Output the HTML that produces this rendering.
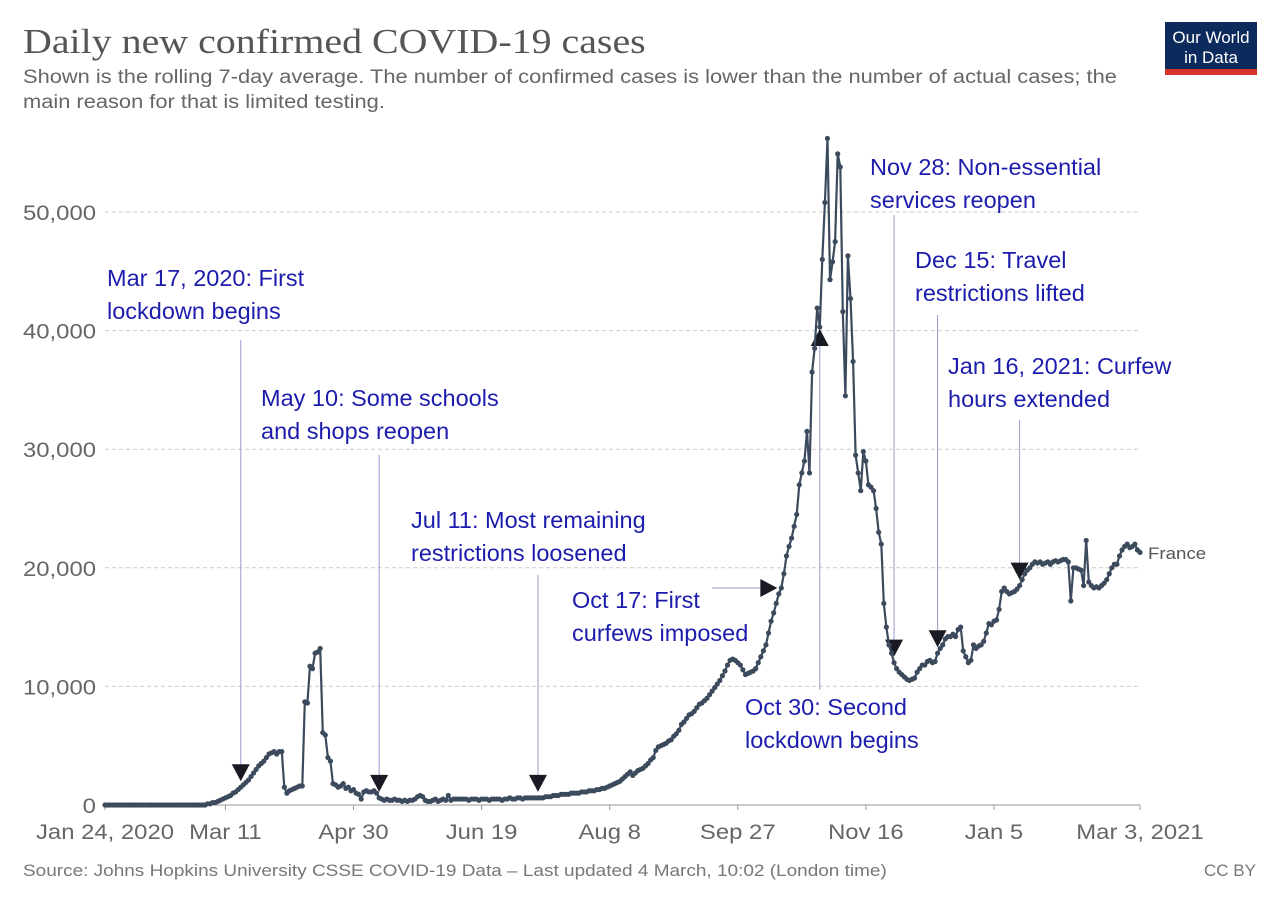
<!DOCTYPE html>
<html><head><meta charset="utf-8"><style>
body{margin:0;background:#fff;width:1280px;height:904px;overflow:hidden}
svg text{font-family:"Liberation Sans",sans-serif}
</style></head><body>
<svg id="chart" width="1280" height="904" xmlns="http://www.w3.org/2000/svg">
<text class="st" data-k="1.14" x="23" y="53" style="font-family:'Liberation Serif',serif" font-size="35" fill="#555">Daily new confirmed COVID-19 cases</text>
<text class="st" data-k="1.15" x="23" y="83" font-size="19" fill="#666">Shown is the rolling 7-day average. The number of confirmed cases is lower than the number of actual cases; the</text>
<text class="st" data-k="1.15" x="23" y="108" font-size="19" fill="#666">main reason for that is limited testing.</text>
<g>
<rect x="1165" y="22" width="92" height="53" fill="#0d2a5c"/>
<rect x="1165" y="69" width="92" height="6" fill="#d4342b"/>
<text x="1211" y="43" font-size="17" fill="#fff" text-anchor="middle">Our World</text>
<text x="1211" y="63" font-size="17" fill="#fff" text-anchor="middle">in Data</text>
</g>
<g id="grid"></g><g id="annots"></g><g id="series"></g>
<text class="st" data-k="1.1" x="1148" y="559" font-size="17" fill="#555">France</text>
<text class="st" data-k="1.15" x="23" y="876" font-size="16.5" fill="#777">Source: Johns Hopkins University CSSE COVID-19 Data – Last updated 4 March, 10:02 (London time)</text>
<text x="1256" y="876" font-size="17" fill="#777" text-anchor="end">CC BY</text>
</svg>
<script>
const casesThousands = [
0,0,0,0,0,0,0,0,0,0,0,0,0,0,0,0,0,0,0,0,0,0,0,0,0,0,0,0,0,0,0,0,0,0,0,0,0,0,0,0,
0.1,0.1,0.2,0.2,0.3,0.4,0.5,0.6,0.7,0.8,1.0,1.1,1.3,1.5,1.7,1.9,
2.1,2.4,2.7,3.0,3.3,3.5,3.7,4.0,4.3,4.4,4.5,4.3,4.5,4.5,1.5,1.0,
1.2,1.3,1.4,1.5,1.6,1.6,8.7,8.6,11.7,11.5,12.8,12.9,13.2,6.1,5.9,4.0,3.7,1.8,1.7,1.5,1.6,1.8,1.4,1.5,1.2,1.3,1.0,0.9,
0.5,1.1,1.2,1.1,1.1,1.2,1.0,0.6,0.5,0.4,0.5,0.4,0.4,0.5,0.4,0.4,0.3,0.4,0.3,0.4,0.4,0.5,0.7,0.8,0.7,0.4,0.3,0.3,0.4,0.5,0.3,0.4,0.5,0.4,0.8,0.4,0.5,0.5,0.5,0.5,
0.5,0.5,0.4,0.5,0.5,0.5,0.4,0.5,0.5,0.5,0.4,0.5,0.5,0.5,0.5,0.4,0.5,0.5,0.6,0.5,0.5,0.6,0.6,0.5,0.6,0.6,0.6,0.6,0.6,0.6,0.6,0.6,0.7,0.7,0.7,0.8,0.8,0.8,0.9,0.9,
0.9,0.9,1.0,1.0,1.0,1.0,1.1,1.1,1.1,1.2,1.2,1.2,1.3,1.3,1.4,1.4,1.5,1.6,1.7,1.8,1.9,2.0,2.2,2.4,2.6,2.8,2.5,2.7,2.9,3.0,3.1,3.3,3.5,3.8,4.0,4.6,4.9,5.0,5.1,5.2,
5.4,5.5,5.8,6.0,6.3,6.8,7.0,7.3,7.6,7.7,7.9,8.2,8.5,8.6,8.8,9.0,9.3,9.6,9.9,10.2,10.5,10.9,11.3,11.8,12.2,12.3,12.2,12.0,11.8,11.4,
11.0,11.1,11.2,11.3,11.5,12.0,12.5,13.0,13.5,14.5,15.5,16.2,17.0,17.8,18.3,19.5,21.0,21.8,22.5,23.5,
24.5,27.0,28.0,29.0,31.5,28.0,36.5,38.5,41.9,40.3,46.0,50.8,56.2,44.3,45.8,47.5,54.9,53.8,41.6,34.5,
46.3,42.7,37.4,29.5,28.0,26.5,29.8,29.0,27.0,26.8,
26.5,25.0,23.0,22.0,17.0,15.0,13.5,12.8,12.0,11.5,11.2,11.0,10.8,10.6,10.5,10.6,10.7,11.2,11.5,11.8,
11.8,12.1,12.2,12.0,12.1,12.8,13.2,13.5,14.0,14.2,
14.2,14.4,14.2,14.8,15.0,13.0,12.5,12.0,12.2,13.5,13.2,13.4,13.5,13.8,14.5,15.3,15.2,15.5,15.6,16.5,18.0,18.3,18.0,17.8,17.9,18.0,18.2,18.5,19.0,19.5,
19.8,20.0,20.3,20.5,20.4,20.5,20.3,20.4,20.5,20.3,20.5,20.6,20.5,20.6,20.7,20.7,20.5,17.2,20.0,20.0,19.9,19.8,18.5,22.3,18.8,18.5,18.3,18.4,18.3,18.5,18.7,19.0,19.5,20.0,20.3,20.3,21.0,21.5,21.8,22.0,21.7,21.8,22.0,21.5,21.3
];
const yTickValues = [0,10000,20000,30000,40000,50000];
const yTickLabels = ["0","10,000","20,000","30,000","40,000","50,000"];
const xTickDays = [0,47,97,147,197,247,297,347,404];
const xTickLabels = ["Jan 24, 2020","Mar 11","Apr 30","Jun 19","Aug 8","Sep 27","Nov 16","Jan 5","Mar 3, 2021"];
const annotDays = [53,107,169,264,279,308,325,357];
const annotLines1 = ["Mar 17, 2020: First","May 10: Some schools","Jul 11: Most remaining","Oct 17: First","Oct 30: Second","Nov 28: Non-essential","Dec 15: Travel","Jan 16, 2021: Curfew"];
const annotLines2 = ["lockdown begins","and shops reopen","restrictions loosened","curfews imposed","lockdown begins","services reopen","restrictions lifted","hours extended"];

const X0=105, X1=1140, Y0=805, Y50=212;
const totalDays = 404;
function xScale(d){return X0+(X1-X0)*d/totalDays;}
function yScale(v){return Y0-(Y0-Y50)*v/50000;}
const NS="http://www.w3.org/2000/svg";
function mk(tag,attrs,parent,txt){const e=document.createElementNS(NS,tag);for(const k in attrs)e.setAttribute(k,attrs[k]);if(txt!==undefined)e.textContent=txt;parent.appendChild(e);return e;}

const grid=document.getElementById('grid');
yTickValues.forEach((v,i)=>{
  const y=yScale(v);
  const l=mk('line',{x1:X0,x2:X1,y1:y,y2:y,stroke:v===0?'#999':'#ccc','stroke-width':1,'stroke-dasharray':v===0?'none':'4,3'},grid);
  
  
  const t=mk('text',{x:96,y:y+8,'font-size':21.5,fill:'#666','text-anchor':'end',class:'st','data-k':'1.11'},grid,yTickLabels[i]);
  
  
});
xTickDays.forEach((d,i)=>{
  const x=xScale(d);
  const tk=mk('line',{x1:x,x2:x,y1:Y0,y2:Y0+5,stroke:'#999'},grid);
  
  
  const t=mk('text',{x:x,y:839,'font-size':21.5,fill:'#666','text-anchor':'middle',class:'st','data-k':'1.11'},grid,xTickLabels[i]);
  
  
});

const ser=document.getElementById('series');
const pts=casesThousands.map((v,i)=>[xScale(i),yScale(v*1000)]);
const path=mk('path',{d:'M'+pts.map(p=>p[0].toFixed(1)+','+p[1].toFixed(1)).join('L'),fill:'none',stroke:'#3b4a5c','stroke-width':2.2,'stroke-linejoin':'round'},ser);


pts.forEach(p=>{
  const c=mk('circle',{cx:p[0],cy:p[1],r:2.6,fill:'#3b4a5c'},ser);
  
  
});

const annLayout=[
 {tx:107,ty:286,l0:340,dir:'down'},
 {tx:261,ty:406,l0:455,dir:'down'},
 {tx:411,ty:528,l0:575,dir:'down'},
 {tx:572,ty:608,dir:'right'},
 {tx:745,ty:715,l0:690,dir:'up'},
 {tx:870,ty:175,l0:215,dir:'down'},
 {tx:915,ty:268,l0:315,dir:'down'},
 {tx:948,ty:374,l0:420,dir:'down'}
];
const an=document.getElementById('annots');
annotDays.forEach((d,i)=>{
  const L=annLayout[i];
  const x=xScale(d);
  const yv=yScale(casesThousands[d]*1000);
  const g=mk('g',{},an);
  
  
  mk('text',{x:L.tx,y:L.ty,'font-size':23.5,fill:'#1c1cad'},g,annotLines1[i]);
  mk('text',{x:L.tx,y:L.ty+33,'font-size':23.5,fill:'#1c1cad'},g,annotLines2[i]);
  if(L.dir==='down'){
    const tipY=yv-6;
    mk('line',{x1:x,x2:x,y1:L.l0,y2:tipY-16,stroke:'#9a9ad0','stroke-width':1},g);
    mk('path',{d:`M${x-9},${tipY-17}L${x+9},${tipY-17}L${x},${tipY}Z`,fill:'#1a1a22'},g);
  } else if(L.dir==='up'){
    const tipY=yv+2;
    mk('line',{x1:x,x2:x,y1:L.l0,y2:tipY+16,stroke:'#9a9ad0','stroke-width':1},g);
    mk('path',{d:`M${x-9},${tipY+17}L${x+9},${tipY+17}L${x},${tipY}Z`,fill:'#1a1a22'},g);
  } else {
    const tipX=x-4;
    mk('line',{x1:712,x2:tipX-16,y1:yv,y2:yv,stroke:'#9a9ad0','stroke-width':1},g);
    mk('path',{d:`M${tipX-17},${yv-9}L${tipX-17},${yv+9}L${tipX},${yv}Z`,fill:'#1a1a22'},g);
  }
});

document.querySelectorAll('text.st').forEach(t=>{
  const k=parseFloat(t.getAttribute('data-k'));
  const w=t.getComputedTextLength();
  t.setAttribute('textLength',(w*k).toFixed(1));
  t.setAttribute('lengthAdjust','spacingAndGlyphs');
});
</script>
</body></html>
